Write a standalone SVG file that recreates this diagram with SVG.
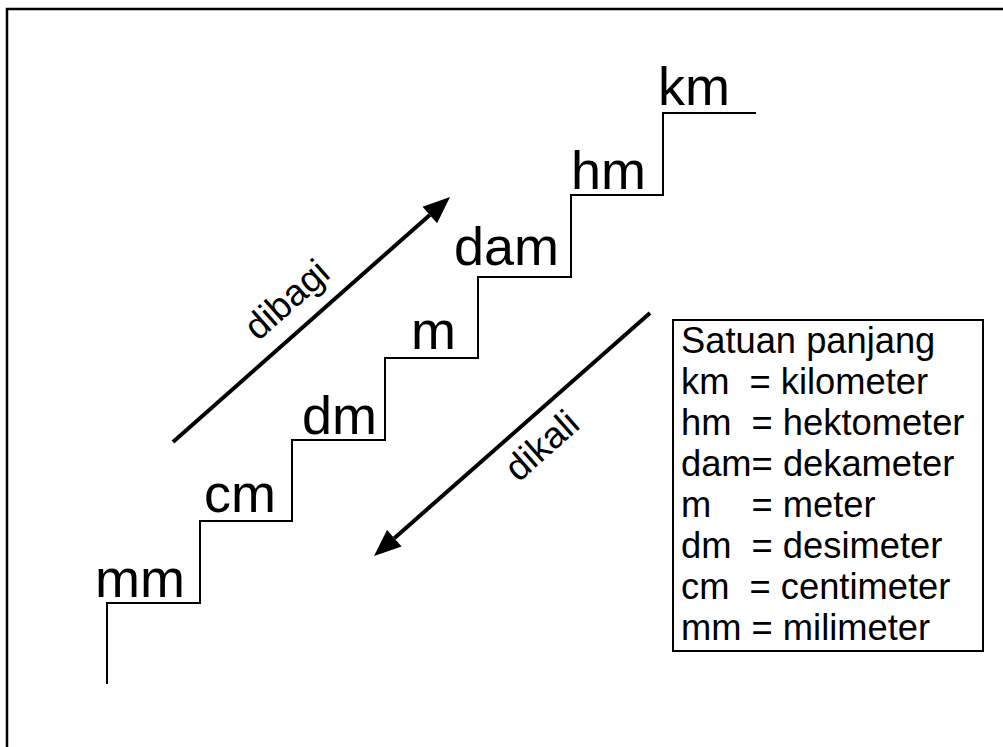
<svg xmlns="http://www.w3.org/2000/svg" width="1003" height="747" viewBox="0 0 1003 747">
  <style>
    .lbl { font-family: "Liberation Sans", Arial, sans-serif; font-size: 54px; fill: #000; }
    .arr { font-family: "Liberation Sans", Arial, sans-serif; font-size: 37px; fill: #000; }
    .leg { font-family: "Liberation Sans", Arial, sans-serif; font-size: 36.3px; fill: #000; white-space: pre; }
    .stair { fill: none; stroke: #000; stroke-width: 2; }
    .conn { fill: none; stroke: #000; stroke-width: 4; }
  </style>
  <defs>
    <marker id="head" markerUnits="userSpaceOnUse" markerWidth="28" markerHeight="22" refX="0" refY="11" orient="auto" overflow="visible">
      <path d="M0,0 L27,11 L0,22 Z" fill="#000"/>
    </marker>
  </defs>
  <rect x="0" y="0" width="1003" height="747" fill="#fff"/>
  <g id="frame">
    <path d="M7,747 L7,9 L1003,9" fill="none" stroke="#000" stroke-width="2.5"/>
  </g>
  <g id="stairs">
    <path class="stair" d="M107,684 L107,603 L200,603 L200,521 L292,521 L292,440 L385,440 L385,358 L478,358 L478,277 L571,277 L571,195 L663,195 L663,113 L756,113"/>
  </g>
  <g id="node-mm"><text class="lbl" x="95" y="597">mm</text></g>
  <g id="node-cm"><text class="lbl" x="204" y="512">cm</text></g>
  <g id="node-dm"><text class="lbl" x="302" y="434">dm</text></g>
  <g id="node-m"><text class="lbl" x="411" y="349">m</text></g>
  <g id="node-dam"><text class="lbl" x="454" y="265">dam</text></g>
  <g id="node-hm"><text class="lbl" x="571" y="189">hm</text></g>
  <g id="node-km"><text class="lbl" x="658" y="105">km</text></g>
  <g id="connectors">
    <line class="conn" x1="173" y1="442" x2="429.8" y2="214.9" marker-end="url(#head)"/>
    <line class="conn" x1="650" y1="313" x2="394.3" y2="538.2" marker-end="url(#head)"/>
    <text class="arr" text-anchor="middle" transform="translate(295,309) rotate(-41.5)">dibagi</text>
    <text class="arr" text-anchor="middle" transform="translate(550,455) rotate(-41.5)">dikali</text>
  </g>
  <g id="legend">
    <rect x="673" y="320" width="310" height="331" fill="none" stroke="#000" stroke-width="2"/>
    <text class="leg" x="681" y="353">Satuan panjang</text>
    <text class="leg" x="681" y="394">km  = kilometer</text>
    <text class="leg" x="681" y="435">hm  = hektometer</text>
    <text class="leg" x="681" y="476">dam= dekameter</text>
    <text class="leg" x="681" y="517">m    = meter</text>
    <text class="leg" x="681" y="558">dm  = desimeter</text>
    <text class="leg" x="681" y="599">cm  = centimeter</text>
    <text class="leg" x="681" y="640">mm = milimeter</text>
  </g>
</svg>
